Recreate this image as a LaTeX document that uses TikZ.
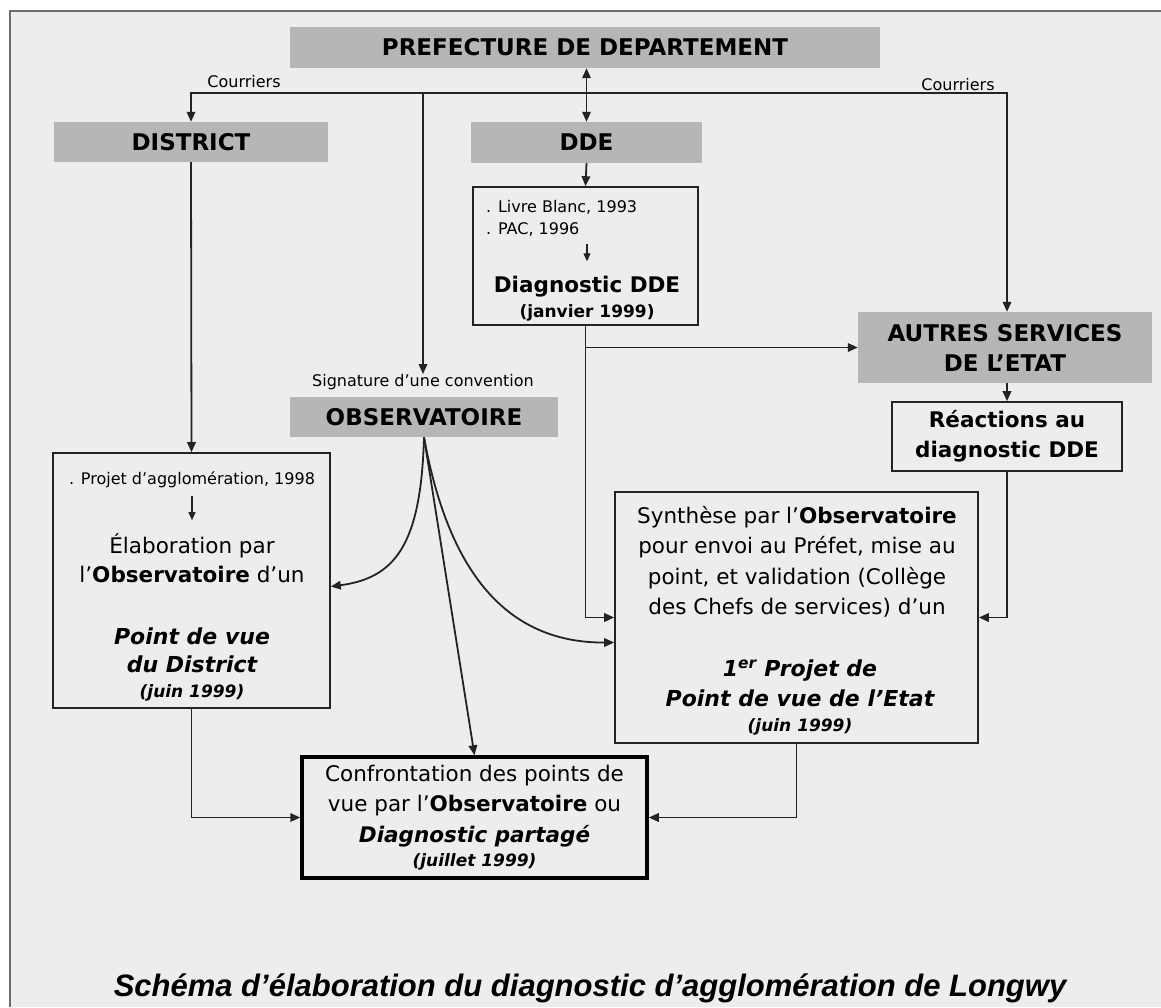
\documentclass[tikz,border=0pt]{standalone}
\usepackage{fontspec}
\setmainfont{DejaVu Sans}
\newfontfamily\capfont{Liberation Sans}
\usetikzlibrary{arrows.meta,calc}
\definecolor{bgc}{RGB}{237,237,237}
\definecolor{hdrc}{RGB}{182,182,182}
\definecolor{linec}{RGB}{35,35,35}
\definecolor{framec}{RGB}{110,110,110}
\tikzset{
  hdr/.style={fill=hdrc, inner sep=0pt, font=\fontsize{23}{30}\selectfont\bfseries, align=center},
  boxn/.style={draw=linec, line width=1.6pt, inner sep=0pt},
  txt/.style={inner sep=0pt, font=\fontsize{21.5}{30}\selectfont, align=center},
  smalltxt/.style={inner sep=0pt, font=\fontsize{16}{22}\selectfont, align=left},
  conn/.style={draw=linec, line width=1.8pt, -{Triangle[length=10pt,width=8.5pt]}},
  conntwo/.style={draw=linec, line width=1.8pt, {Triangle[length=10pt,width=8.5pt]}-{Triangle[length=10pt,width=8.5pt]}},
  innerarr/.style={draw=linec, line width=1.2pt, -{Triangle[length=8pt,width=7pt]}},
}
\begin{document}
\begin{tikzpicture}[x=1pt,y=-1pt]
\useasboundingbox (0,0) rectangle (1161,1007);
\fill[white] (0,0) rectangle (1161,1007);
\fill[bgc] (10,11) rectangle (1161,1007);
\draw[framec, line width=2pt] (10,1007) -- (10,11) -- (1161,11);

% header boxes
\node[hdr, minimum width=590pt, minimum height=41pt] (pref) at (585,47.5) {PREFECTURE DE DEPARTEMENT};
\node[hdr, minimum width=274pt, minimum height=40pt] (district) at (191,142) {DISTRICT};
\node[hdr, minimum width=231pt, minimum height=41pt] (dde) at (586.5,142.5) {DDE};
\node[hdr, minimum width=268pt, minimum height=40pt] (obs) at (424,417) {OBSERVATOIRE};
\node[smalltxt, align=center] (sig) at (423,382) {Signature d’une convention};
\node[hdr, minimum width=294pt, minimum height=71pt] (autres) at (1005,347.5) {AUTRES SERVICES\\DE L’ETAT};

% labels
\node[smalltxt] (courl) at (244,82) {Courriers};
\node[smalltxt] (courr) at (958,85) {Courriers};

% DDE content box
\node[boxn, minimum width=225pt, minimum height=138pt] (ddebox) at (585.5,256) {};
\node[smalltxt, anchor=west] (ddesrc) at (486,218) {. Livre Blanc, 1993\\. PAC, 1996};
\node[inner sep=0pt, align=center, font=\fontsize{21.5}{25}\selectfont\bfseries] (ddediag) at (587,299) {Diagnostic DDE\\{\fontsize{17}{20}\selectfont (janvier 1999)}};

% Reactions
\node[boxn, minimum width=230pt, minimum height=69pt, font=\fontsize{21.5}{30}\selectfont\bfseries, align=center] (react) at (1007,436.5) {Réactions au\\diagnostic DDE};

% left box
\node[boxn, minimum width=277pt, minimum height=255pt] (leftbox) at (191.5,580.5) {};
\node[smalltxt, align=center] (lsrc) at (192,480) {. Projet d’agglomération, 1998};
\node[txt, font=\fontsize{21.5}{29}\selectfont] (lela) at (192,558) {Élaboration par\\l’{\bfseries Observatoire} d’un};
\node[txt, font=\fontsize{22}{28}\selectfont\bfseries\itshape] (lpdv) at (192,664) {Point de vue\\du District\\[-3pt]{\fontsize{17}{20}\selectfont (juin 1999)}};

% synthese box
\node[boxn, minimum width=363pt, minimum height=251pt] (synth) at (796.5,617.5) {};
\node[txt, font=\fontsize{21.5}{30.5}\selectfont] (syn1) at (797,562) {Synthèse par l’{\bfseries Observatoire}\\pour envoi au Préfet, mise au\\point, et validation (Collège\\des Chefs de services) d’un};
\node[txt, font=\fontsize{22}{30}\selectfont\bfseries\itshape] (syn2) at (800,697) {1\textsuperscript{er} Projet de\\Point de vue de l’Etat\\[-5pt]{\fontsize{17}{20}\selectfont (juin 1999)}};

% confrontation box
\node[draw=black, line width=3.5pt, inner sep=0pt, minimum width=345pt, minimum height=121pt, font=\fontsize{21.5}{30.5}\selectfont, align=center] (conf) at (474.5,817.5) {Confrontation des points de\\vue par l’{\bfseries Observatoire} ou\\{\bfseries\itshape Diagnostic partagé}\\[-6pt]{\fontsize{17}{20}\selectfont\bfseries\itshape (juillet 1999)}};

% caption
\node[inner sep=0pt, font=\capfont\fontsize{31}{36}\selectfont\bfseries\itshape] (caption) at (590,988) {Schéma d’élaboration du diagnostic d’agglomération de Longwy};

% connectors
\coordinate (bus) at (586.5,93);
\draw[conntwo] (pref.south -| dde.north) -- (dde.north);
\draw[conn] (bus) -| (district.north);
\draw[conn] (bus) -| (sig.north);
\draw[conn] (bus) -| (react.north |- autres.north);
\draw[conn] (dde.south) -- (ddebox.north);
\draw[innerarr, shorten <=8pt, shorten >=15pt] (ddediag.north |- ddesrc.south) -- (ddediag.north);
\draw[conn] (ddebox.south) |- (synth.west);
\draw[conn] (ddebox.south |- autres.west) -- (autres.west);
\draw[conn] (react.north |- autres.south) -- (react.north);
\draw[conn] (react.south) |- (synth.east);
\draw[conn] (district.south) -- (leftbox.north);
\draw[innerarr, shorten <=8pt, shorten >=13pt] (lsrc.south) -- (lsrc.south |- lela.north);
\coordinate (leftin) at ($(leftbox.east)+(0,6)$);
\coordinate (synthin) at ($(synth.west)+(0,25)$);
\draw[conn] (obs.south) .. controls (421,545) and (395,578) .. (leftin);
\draw[conn] (obs.south) -- (conf.north);
\draw[conn] (obs.south) .. controls (448,570) and (505,643) .. (synthin);
\draw[conn] (leftbox.south) |- (conf.west);
\draw[conn] (synth.south) |- (conf.east);
\end{tikzpicture}
\end{document}
